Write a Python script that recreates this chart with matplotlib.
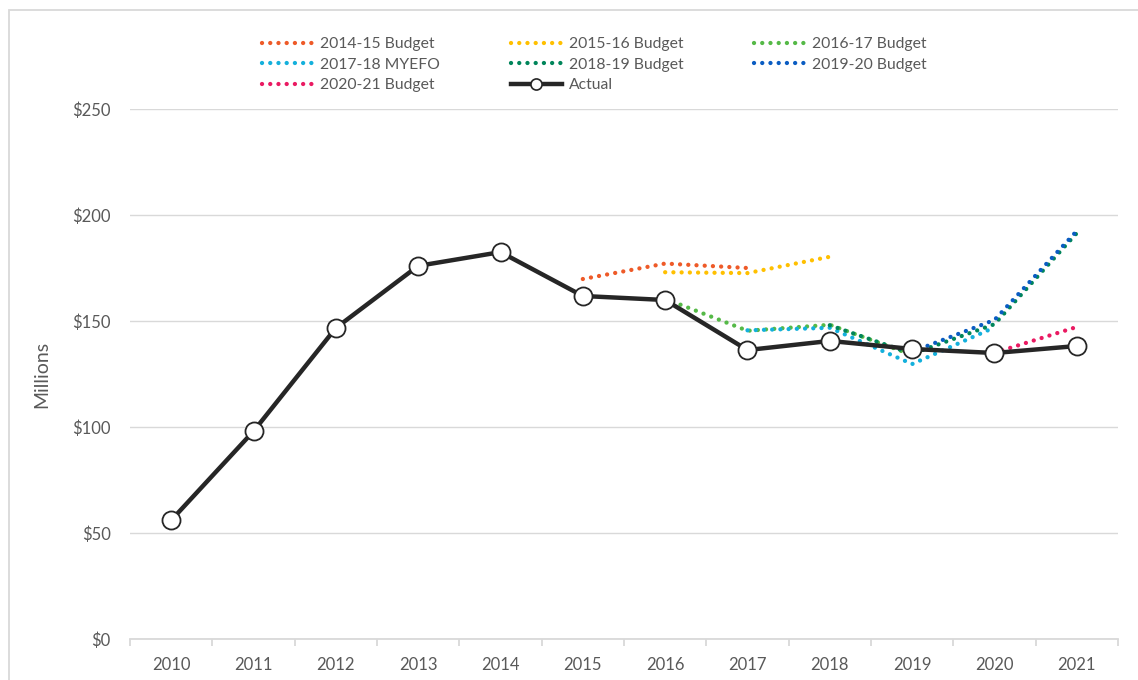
import matplotlib
matplotlib.use("Agg")
import matplotlib.pyplot as plt
from matplotlib.patches import Rectangle
from matplotlib.lines import Line2D
from matplotlib.ticker import FixedLocator, FuncFormatter

years = ["2010", "2011", "2012", "2013", "2014", "2015", "2016", "2017", "2018", "2019", "2020", "2021"]

actual = [56, 98, 146.7, 176, 182.5, 161.8, 159.9, 136.3, 140.6, 136.8, 134.9, 138.2]

b1415_x = [5, 6, 7]
b1415 = [169.8, 177.1, 175.0]
b1516_x = [6, 7, 8]
b1516 = [173.0, 172.6, 180.3]
b1617_x = [6, 7, 8, 9]
b1617 = [160.5, 145.4, 148.2, 134.0]
m1718_x = [7, 8, 9, 10]
m1718 = [145.6, 146.8, 129.7, 147.0]
b1819_x = [8, 9, 10, 11]
b1819 = [148.0, 134.5, 148.5, 191.5]
b1920_x = [9, 10, 11]
b1920 = [135.5, 150.5, 192.5]
b2021_x = [10, 11]
b2021 = [135.0, 147.2]

yticks = [0, 50, 100, 150, 200, 250]

plt.rcParams['font.family'] = ['Lato', 'DejaVu Sans']
text_col = '#595959'
grid_col = '#d9d9d9'

fig = plt.figure(figsize=(11.38, 6.8), dpi=100)
ax = fig.add_axes([130/1138, 1-639/680, (1118-130)/1138, (639-109)/680])

dot = dict(linestyle=(0, (0.01, 1.9)), linewidth=3.1, dash_capstyle='round')
series = [
    (b1415_x, b1415, '#EE5A28', '2014-15 Budget'),
    (b1516_x, b1516, '#FFC000', '2015-16 Budget'),
    (b1617_x, b1617, '#55B947', '2016-17 Budget'),
    (m1718_x, m1718, '#14B0DC', '2017-18 MYEFO'),
    (b1819_x, b1819, '#00855A', '2018-19 Budget'),
    (b1920_x, b1920, '#0A5CC2', '2019-20 Budget'),
    (b2021_x, b2021, '#EA1A62', '2020-21 Budget'),
]
handles = {}
for i, (xs, ys, c, lab) in enumerate(series):
    h, = ax.plot(xs, ys, color=c, label=lab, zorder=3 + i * 0.1, **dot)
    handles[lab] = h

ax.plot(range(len(years)), actual, color='#262626', linewidth=3.2,
        marker='o', markersize=13, markerfacecolor='white',
        markeredgecolor='#262626', markeredgewidth=1.3, label='Actual', zorder=5)
handles['Actual'] = Line2D([], [], color='#262626', linewidth=3.2, marker='o',
                           markersize=8, markerfacecolor='white',
                           markeredgecolor='#262626', markeredgewidth=1.2)

ax.set_xlim(-0.5, len(years) - 0.5)
ax.set_ylim(0, 250)
ax.set_yticks(yticks)
ax.yaxis.set_major_formatter(FuncFormatter(lambda v, p: f"${int(v)}"))
ax.set_xticks(range(len(years)))
ax.set_xticklabels(years)
ax.xaxis.set_minor_locator(FixedLocator([i - 0.5 for i in range(len(years) + 1)]))
ax.tick_params(axis='x', which='major', length=0, pad=13, labelsize=12, labelcolor=text_col)
ax.tick_params(axis='x', which='minor', length=5, width=1.3, color=grid_col, direction='out')
ax.tick_params(axis='y', length=0, pad=14, labelsize=12, labelcolor=text_col)

for s in ['top', 'right', 'left']:
    ax.spines[s].set_visible(False)
ax.spines['bottom'].set_color(grid_col)
ax.spines['bottom'].set_linewidth(1.3)
ax.grid(axis='y', color=grid_col, linewidth=1.0)
ax.set_axisbelow(True)

ax.set_ylabel('Millions', fontsize=14, color=text_col, labelpad=16)

order = ['2014-15 Budget', '2017-18 MYEFO', '2020-21 Budget',
         '2015-16 Budget', '2018-19 Budget', 'Actual',
         '2016-17 Budget', '2019-20 Budget']
leg = fig.legend([handles[k] for k in order], order, ncol=3,
                 loc='upper left', bbox_to_anchor=(262/1138, 1-37/680),
                 frameon=False, fontsize=11.3, handlelength=3.25,
                 handletextpad=0.45, columnspacing=4.5, labelspacing=0.42,
                 borderaxespad=0, borderpad=0)
for t in leg.get_texts():
    t.set_color(text_col)

fig.patches.append(Rectangle((9/1138, -0.1), 1.2, 1.1 - 10/680, transform=fig.transFigure,
                             fill=False, edgecolor=grid_col, linewidth=1.3))

fig.savefig('out.png', dpi=100)
